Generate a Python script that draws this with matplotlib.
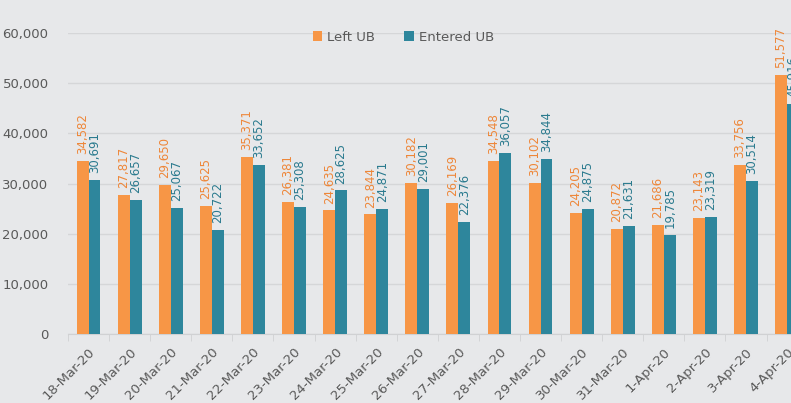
import numpy as np
import matplotlib
matplotlib.use("Agg")
import matplotlib.pyplot as plt
from matplotlib.ticker import FuncFormatter

dates = ["18-Mar-20", "19-Mar-20", "20-Mar-20", "21-Mar-20", "22-Mar-20", "23-Mar-20",
         "24-Mar-20", "25-Mar-20", "26-Mar-20", "27-Mar-20", "28-Mar-20", "29-Mar-20",
         "30-Mar-20", "31-Mar-20", "1-Apr-20", "2-Apr-20", "3-Apr-20", "4-Apr-20"]
left_ub = [34582, 27817, 29650, 25625, 35371, 26381, 24635, 23844, 30182,
           26169, 34548, 30102, 24205, 20872, 21686, 23143, 33756, 51577]
entered_ub = [30691, 26657, 25067, 20722, 33652, 25308, 28625, 24871, 29001,
              22376, 36057, 34844, 24875, 21631, 19785, 23319, 30514, 45916]

bg = "#E7E8EA"
orange = "#F79646"
teal = "#2E869C"
orange_txt = "#EE8638"
teal_txt = "#2A7A8E"
grey_txt = "#595959"

fig = plt.figure(figsize=(7.91, 4.03), dpi=100, facecolor=bg)
# the original is cropped on the right, so the axes run past the figure edge
ax = fig.add_axes([0.086, 0.171, 0.935, 0.747])
ax.set_facecolor(bg)

x = np.arange(len(dates))
w = 0.29
b1 = ax.bar(x - w / 2, left_ub, w, color=orange, label="Left UB", zorder=3)
b2 = ax.bar(x + w / 2, entered_ub, w, color=teal, label="Entered UB", zorder=3)

for bars, vals, c in [(b1, left_ub, orange_txt), (b2, entered_ub, teal_txt)]:
    for r, v in zip(bars, vals):
        ax.annotate(f"{v:,}", (r.get_x() + r.get_width() / 2, v),
                    xytext=(0, 5), textcoords="offset points",
                    rotation=90, ha="center", va="bottom",
                    fontsize=8.5, color=c, annotation_clip=False, clip_on=False)

ax.set_xlim(-0.5, len(dates) - 0.5)
ax.set_ylim(0, 60000)
ax.set_yticks(np.arange(0, 60001, 10000))
ax.yaxis.set_major_formatter(FuncFormatter(lambda v, p: f"{int(v):,}"))
ax.grid(axis="y", color="#D5D6D8", linewidth=1, zorder=0)

ax.set_xticks(x)
ax.set_xticklabels(dates, rotation=45, ha="right", rotation_mode="anchor")
ax.set_xticks(np.arange(-0.5, len(dates), 1), minor=True)
ax.tick_params(axis="x", which="major", length=0, pad=8, labelsize=9.5, labelcolor=grey_txt)
ax.tick_params(axis="x", which="minor", length=5, color="#D0D1D3")
ax.tick_params(axis="y", length=0, pad=14, labelsize=9.5, labelcolor=grey_txt)

for s in ["top", "right", "left"]:
    ax.spines[s].set_visible(False)
ax.spines["bottom"].set_color("#D0D1D3")

fig.legend(loc="center", bbox_to_anchor=(0.51, 0.908), ncol=2, frameon=False,
           fontsize=9.5, labelcolor=grey_txt, handlelength=0.7, handleheight=0.7,
           columnspacing=2.2, handletextpad=0.4)

fig.savefig("out.png", dpi=100, facecolor=bg)
